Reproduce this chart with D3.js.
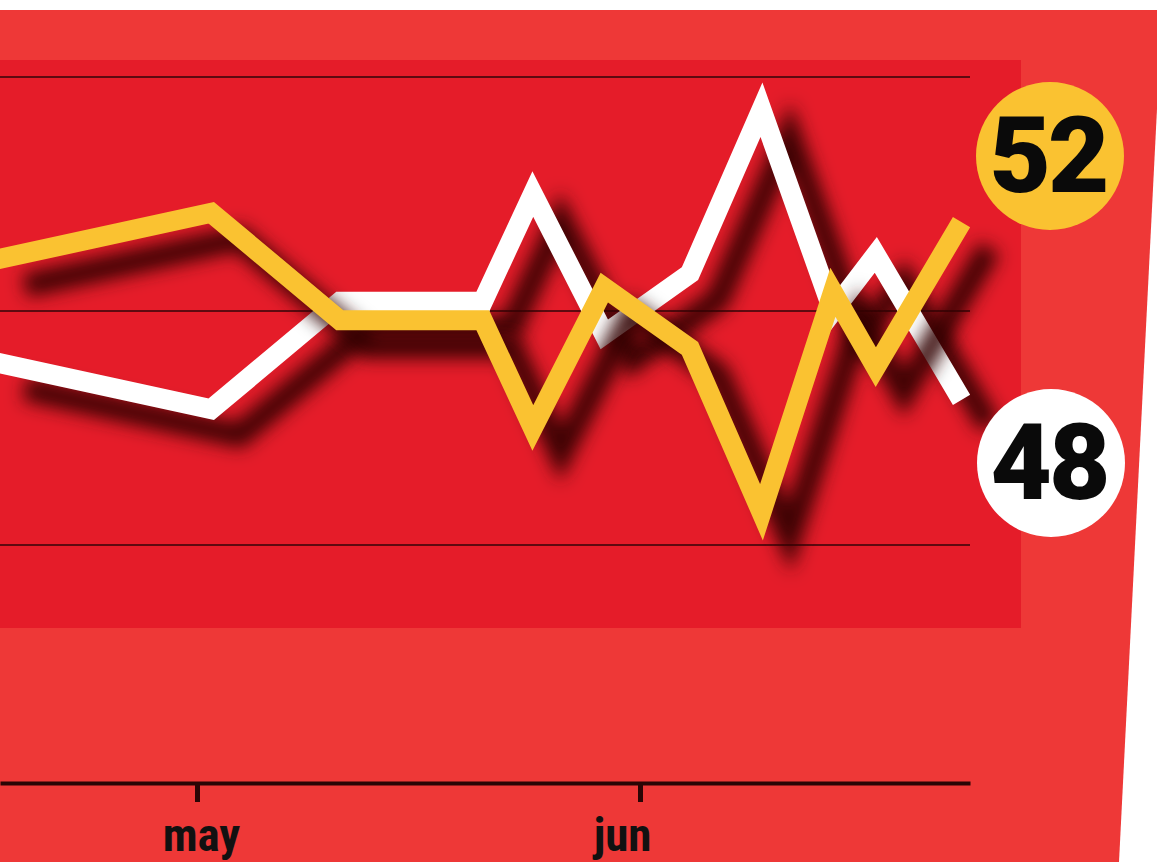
<!DOCTYPE html>
<html>
<head>
<meta charset="utf-8">
<script src="https://cdn.jsdelivr.net/npm/d3@7"></script>
<style>
  html, body { margin: 0; padding: 0; background: #ffffff; overflow: hidden; }
  svg { display: block; }
</style>
</head>
<body>
<svg id="chart" width="1157" height="862"></svg>
<script>
// ---- data ----
const pollDates = ["2016-04-17 00", "2016-05-02 00", "2016-05-11 00", "2016-05-21 00", "2016-05-24 12",
                   "2016-05-29 12", "2016-06-04 12", "2016-06-09 12", "2016-06-14 12", "2016-06-17 12", "2016-06-23 12"];
const remainValues = [48.9, 47.9, 50.2, 50.2, 52.5, 49.5, 50.8, 54.3, 50.0, 51.2, 48.1];
const leaveValues  = [51.1, 52.1, 49.8, 49.8, 47.5, 50.5, 49.2, 45.7, 50.4, 48.8, 51.9];
const gridValues = [45, 50, 55];
const monthTicks = ["2016-05-01 00", "2016-06-01 00"];
const monthLabels = ["may", "jun"];
const finalLabels = ["52", "48"];

const parse = d3.timeParse("%Y-%m-%d %H");
const dates = pollDates.map(parse);
const tickDates = monthTicks.map(parse);

const svg = d3.select("#chart");
const W = 1157, H = 862;

// backgrounds
svg.append("rect").attr("x", 0).attr("y", 0).attr("width", W).attr("height", H).attr("fill", "#ffffff");
svg.append("path").attr("d", "M0,10 L1162,10 L1119,862 L0,862 Z").attr("fill", "#ee3837");
svg.append("rect").attr("x", 0).attr("y", 60).attr("width", 1021).attr("height", 568).attr("fill", "#e51c29");

// scales
const x = d3.scaleTime().domain(tickDates).range([197, 640]);
x.domain([x.invert(0), x.invert(970)]).range([0, 970]);
const y = d3.scaleLinear().domain([45, 55]).range([545, 77]);

// defs: shadow blur
const defs = svg.append("defs");
const f = defs.append("filter").attr("id", "blur").attr("x", "-20%").attr("y", "-30%").attr("width", "140%").attr("height", "160%");
f.append("feGaussianBlur").attr("stdDeviation", 9);

// grid lines
svg.append("g").selectAll("line").data(gridValues).join("line")
  .attr("x1", 0).attr("x2", 970)
  .attr("y1", d => y(d)).attr("y2", d => y(d))
  .attr("stroke", "#5e0a10").attr("stroke-width", 2);

// x axis
const axis = d3.axisBottom(x).tickValues(tickDates)
  .tickFormat((d, i) => monthLabels[i]).tickSizeInner(19).tickSizeOuter(0).tickPadding(21);
const gx = svg.append("g").attr("transform", "translate(0,783)").call(axis);
gx.select(".domain").attr("stroke", "#2a0505").attr("stroke-width", 4);
gx.selectAll(".tick line").attr("stroke", "#2a0505").attr("stroke-width", 5);
gx.selectAll(".tick text")
  .attr("fill", "#111")
  .attr("font-family", "'Liberation Sans Narrow', 'Roboto Condensed', Roboto, sans-serif")
  .attr("font-weight", "bold")
  .attr("font-size", 47)
  .attr("dy", "0.6em")
  .attr("dx", (d, i) => i === 0 ? 4 : -18);

// lines
const line = d3.line().x((d, i) => x(dates[i])).y(d => y(d)).curve(d3.curveLinear);

function drawSeries(values, color) {
  svg.append("path").attr("d", line(values))
    .attr("fill", "none").attr("stroke", "#320003").attr("stroke-opacity", 0.92)
    .attr("stroke-width", 24).attr("stroke-linejoin", "miter").attr("stroke-miterlimit", 10)
    .attr("transform", "translate(28,26)").attr("filter", "url(#blur)");
  svg.append("path").attr("d", line(values))
    .attr("fill", "none").attr("stroke", color)
    .attr("stroke-width", 20).attr("stroke-linejoin", "miter").attr("stroke-miterlimit", 10)
    .attr("stroke-linecap", "butt");
}
drawSeries(remainValues, "#ffffff");
drawSeries(leaveValues, "#fac231");

// end labels
const badges = [
  { cx: 1050, cy: 156, fill: "#fac231", text: finalLabels[0] },
  { cx: 1051, cy: 463, fill: "#ffffff", text: finalLabels[1] }
];
const g = svg.append("g");
g.selectAll("circle").data(badges).join("circle")
  .attr("cx", d => d.cx).attr("cy", d => d.cy).attr("r", 74).attr("fill", d => d.fill);
g.selectAll("text").data(badges).join("text")
  .attr("x", d => d.cx - 2).attr("y", d => d.cy + 36)
  .attr("text-anchor", "middle")
  .attr("font-family", "Roboto, 'Noto Sans', sans-serif")
  .attr("font-weight", 900).attr("font-size", 106).attr("letter-spacing", -3)
  .attr("fill", "#0a0a0a")
  .text(d => d.text);
</script>
</body>
</html>
